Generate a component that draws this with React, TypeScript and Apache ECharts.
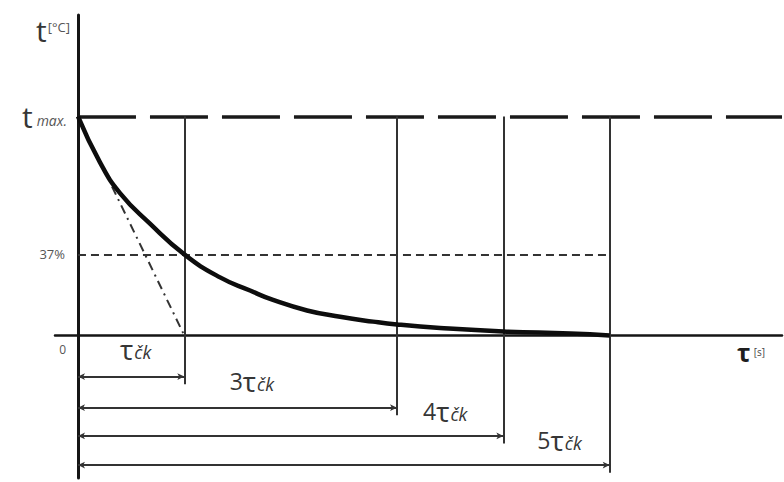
import React, { useEffect, useRef } from 'react';
import * as echarts from 'echarts';

// curve (x in multiples of tau, y as fraction of t max)
const curveTau = [0, 0.207, 0.395, 0.677, 1.0, 1.336, 1.618, 1.834, 2.154, 2.465, 2.775, 3.0, 3.405, 4.0, 4.63, 5.0];
const curveTemp = [1.0, 0.79, 0.65, 0.51, 0.37, 0.265, 0.205, 0.162, 0.114, 0.085, 0.063, 0.05, 0.034, 0.018, 0.009, 0.0];

// tangent (dash-dot) segment
const tangentTau = [0.32, 1.0];
const tangentTemp = [0.68, 0.0];

// reference levels
const levelZero = 0;
const levelMax = 1.0;
const level37 = 0.37;

// time-constant multiples and their dimension rows
const tauMultiples = [1, 3, 4, 5];
const multipleLabels = ['', '3', '4', '5'];
const dimRows = [-0.188, -0.33, -0.459, -0.592];

const X_MIN = -0.216;
const X_MAX = 6.62;
const Y_MIN = -0.651;
const Y_MAX = 1.463;

const FONT = 'Open Sans';
const TXT = '#363636';

const richTau = {
  n: { fontSize: 23, color: TXT, fontFamily: FONT, padding: [0, 0, 6, 0] },
  tau: { fontSize: 28, color: TXT, fontFamily: FONT, padding: [0, 1, 6, 0] },
  sub: { fontSize: 18, color: TXT, fontFamily: FONT, fontStyle: 'italic' },
};

export default function App() {
  const ref = useRef<HTMLDivElement>(null);

  useEffect(() => {
    if (!ref.current) return;
    const chart = echarts.init(ref.current, null, { renderer: 'svg' });

    const labelDist = [[33, 8], [123, 7], [36, 5], [28, 5]];

    const refLines: any[] = [];
    refLines.push([
      { coord: [0, levelMax], lineStyle: { color: '#1a1a1a', width: 3.5, type: [58, 14] } },
      { coord: [X_MAX, levelMax] },
    ]);
    refLines.push([
      { coord: [0, level37], lineStyle: { color: '#333', width: 2, type: [8, 5] } },
      { coord: [tauMultiples[tauMultiples.length - 1], level37] },
    ]);
    tauMultiples.forEach((m, i) => {
      refLines.push([
        { coord: [m, levelMax], lineStyle: { color: '#333', width: 2, type: 'solid' } },
        { coord: [m, dimRows[i] - 0.035] },
      ]);
    });

    const dimLines = tauMultiples.map((m, i) => [
      {
        coord: [0, dimRows[i]],
        lineStyle: { color: '#333', width: 2, type: 'solid' },
        label: {
          show: true,
          position: 'insideEndTop',
          distance: labelDist[i],
          formatter: (multipleLabels[i] ? '{n|' + multipleLabels[i] + '}' : '') + '{tau|τ}{sub|čk}',
          rich: richTau,
        },
      },
      { coord: [m, dimRows[i]] },
    ]);

    chart.setOption({
      animation: false,
      backgroundColor: '#ffffff',
      grid: { left: 55, right: 2, top: 15, bottom: 4, containLabel: false, outerBoundsMode: 'none' },
      xAxis: {
        type: 'value',
        min: X_MIN,
        max: X_MAX,
        splitLine: { show: false },
        axisTick: { show: false },
        axisLabel: { show: false },
        axisLine: { onZero: true, lineStyle: { color: '#151515', width: 2.5 } },
        name: '{tau|τ} {u|[s]}',
        nameLocation: 'end',
        nameGap: -17,
        nameTextStyle: {
          align: 'right',
          verticalAlign: 'top',
          padding: [4, 0, 0, 0],
          rich: {
            tau: { fontSize: 25, color: '#1e1e1e', fontFamily: FONT, fontWeight: 'bold' },
            u: { fontSize: 10, color: '#444', fontFamily: FONT },
          },
        },
      },
      yAxis: {
        type: 'value',
        min: Y_MIN,
        max: Y_MAX,
        splitLine: { show: false },
        axisTick: { show: false },
        axisLine: { onZero: true, lineStyle: { color: '#151515', width: 3 } },
        axisLabel: {
          customValues: [levelZero, level37, levelMax],
          margin: -12,
          formatter: (v: number) => (v === levelMax ? '{t|t}{m|max.}' : v === level37 ? '{p|37%}' : '{z|0}'),
          rich: {
            t: { fontSize: 30, color: TXT, fontFamily: FONT },
            m: { fontSize: 14, color: '#555', fontFamily: FONT, fontStyle: 'italic', padding: [8, 0, 0, 4] },
            p: { fontSize: 13, color: '#555', fontFamily: FONT, padding: [0, 2, 0, 0] },
            z: { fontSize: 12, color: '#555', fontFamily: FONT, padding: [28, 1, 0, 0] },
          },
        },
        name: '{t|t}{u|[°C]}',
        nameLocation: 'end',
        nameGap: 0,
        nameTextStyle: {
          align: 'right',
          verticalAlign: 'top',
          padding: [0, 8, 0, 0],
          rich: {
            t: { fontSize: 30, color: TXT, fontFamily: FONT },
            u: { fontSize: 13, color: '#555', fontFamily: FONT, padding: [0, 0, 6, 1] },
          },
        },
      },
      series: [
        {
          type: 'line',
          data: curveTau.map((x, i) => [x, curveTemp[i]]),
          smooth: 0.5,
          showSymbol: false,
          lineStyle: { color: '#0d0d0d', width: 4.5 },
          silent: true,
          z: 5,
          markLine: {
            silent: true,
            symbol: ['none', 'none'],
            label: { show: false },
            data: refLines,
          },
        },
        {
          type: 'line',
          data: tangentTau.map((x, i) => [x, tangentTemp[i]]),
          showSymbol: false,
          lineStyle: { color: '#333', width: 2, type: [9, 5, 2, 5] },
          silent: true,
          markLine: {
            silent: true,
            symbol: ['arrow', 'arrow'],
            symbolSize: [5, 7],
            data: dimLines,
          },
        },
      ],
    });

    return () => chart.dispose();
  }, []);

  return <div ref={ref} style={{ width: 784, height: 482, position: 'absolute', left: 0, top: 0 }} />;
}
